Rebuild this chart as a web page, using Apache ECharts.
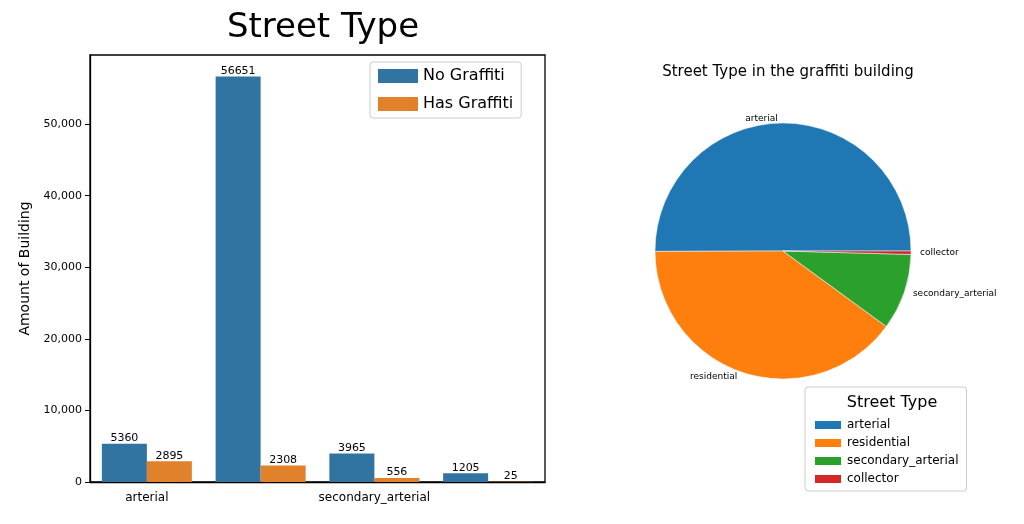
<!DOCTYPE html>
<html><head><meta charset="utf-8">
<script src="https://cdn.jsdelivr.net/npm/echarts@6/dist/echarts.min.js"></script>
<style>body{margin:0;background:#fff}#c{width:1024px;height:524px}</style>
</head><body><div id="c"></div>
<script>
const categories = ["arterial", "residential", "secondary_arterial", "collector"];
const noGraffiti = [5360, 56651, 3965, 1205];
const hasGraffiti = [2895, 2308, 556, 25];
const pieNames = ["arterial", "residential", "secondary_arterial", "collector"];
const pieValues = [2895, 2308, 556, 25];
const pieColors = ["#1f77b4", "#ff7f0e", "#2ca02c", "#d62728"];

const total = pieValues.reduce((a, b) => a + b, 0);
const pieData = pieNames.map((n, i) => ({ name: n, value: pieValues[i], itemStyle: { color: pieColors[i] } }));
const font = "DejaVu Sans";

const chart = echarts.init(document.getElementById("c"));
chart.setOption({
	animation: false,
	textStyle: { fontFamily: font },
	title: [
		{ text: "Street Type", left: 318, top: 6, textAlign: "center", textStyle: { fontSize: 34, fontWeight: "normal", color: "#000" } },
		{ text: "Street Type in the graffiti building", left: 783, top: 60, textAlign: "center", textStyle: { fontSize: 15, fontWeight: "normal", color: "#000" } },
		{ text: "Street Type", left: 887, top: 390, textAlign: "center", textStyle: { fontSize: 16, fontWeight: "normal", color: "#000" } }
	],
	legend: [
		{
			data: ["No Graffiti", "Has Graffiti"], orient: "vertical", left: 370, top: 62,
			itemWidth: 40, itemHeight: 14, itemGap: 12, padding: [6, 8],
			borderColor: "#ccc", borderWidth: 1, borderRadius: 3,
			textStyle: { fontSize: 16, color: "#000" }, icon: "rect"
		},
		{
			data: pieNames, orient: "vertical", left: 805, top: 387,
			itemWidth: 28, itemHeight: 10, itemGap: 6, padding: [32, 8, 6, 8],
			borderColor: "#ccc", borderWidth: 1, borderRadius: 3,
			textStyle: { fontSize: 12, color: "#000" }, icon: "rect"
		}
	],
	grid: { left: 90, top: 55, width: 455, height: 427 },
	xAxis: {
		type: "category", data: categories,
		axisLine: { lineStyle: { color: "#000", width: 1.3 } },
		axisTick: { alignWithLabel: true, lineStyle: { color: "#000" } },
		axisLabel: { color: "#000", fontSize: 12, margin: 10 }
	},
	yAxis: {
		type: "value", min: 0, max: 59650, interval: 10000,
		name: "Amount of Building", nameLocation: "middle", nameGap: 58, nameRotate: 90,
		nameTextStyle: { fontSize: 14, color: "#000" },
		axisLine: { show: true, lineStyle: { color: "#000", width: 1.3 } },
		axisTick: { show: true, lineStyle: { color: "#000" } },
		axisLabel: { color: "#000", fontSize: 11, showMaxLabel: false },
		splitLine: { show: false }
	},
	graphic: [{ type: "rect", shape: { x: 90, y: 55, width: 455, height: 427 }, style: { fill: "none", stroke: "#000", lineWidth: 1.3 }, silent: true }],
	series: [
		{
			name: "No Graffiti", type: "bar", data: noGraffiti, barWidth: 45, barGap: "0%",
			itemStyle: { color: "#3274a1" },
			label: { show: true, position: "top", distance: 0, fontSize: 11, color: "#000" }
		},
		{
			name: "Has Graffiti", type: "bar", data: hasGraffiti, barWidth: 45, barGap: "0%",
			itemStyle: { color: "#e1812c" },
			label: { show: true, position: "top", distance: 0, fontSize: 11, color: "#000" }
		},
		{
			type: "pie", center: [783, 251], radius: 128, startAngle: 0, clockwise: false,
			data: pieData, legendHoverLink: false,
			label: { position: "outside", fontSize: 9, color: "#000" },
			labelLine: { show: false, length: 4, length2: 0 },
			itemStyle: { borderColor: "#fff", borderWidth: 0.5 }
		},
		{
			type: "pie", center: [783, 251], radius: 128, startAngle: 0, clockwise: false,
			data: pieData, legendHoverLink: false, silent: true,
			label: {
				position: "inside", fontSize: 9, color: "#000",
				formatter: p => (p.value / total * 100).toFixed(2) + "%  (" + p.value + ")"
			},
			itemStyle: { opacity: 0 }
		}
	]
});
</script></body></html>
